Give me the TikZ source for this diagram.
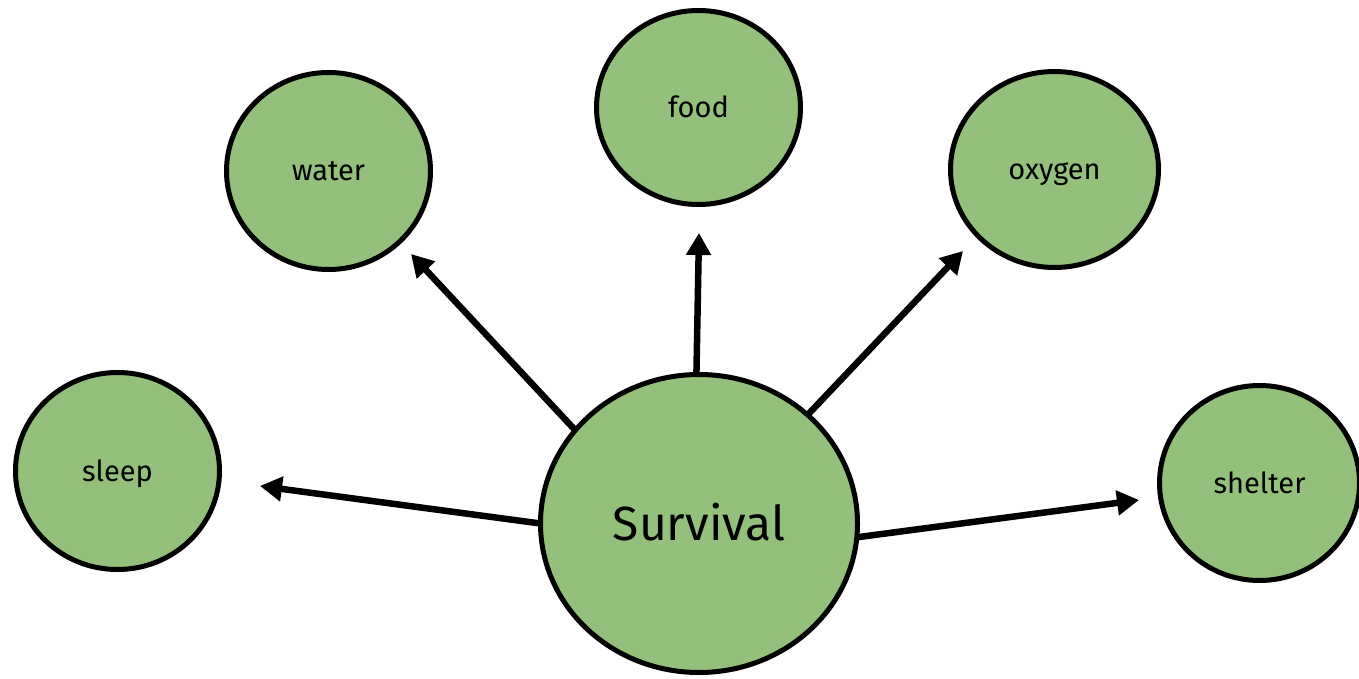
\documentclass[tikz,border=0pt]{standalone}
\usepackage{fontspec}
\setmainfont{Fira Sans}
\usetikzlibrary{shapes.geometric,arrows.meta}
\definecolor{leaf}{RGB}{147,192,123}
\begin{document}
\begin{tikzpicture}[x=1pt,y=-1pt,
  bubble/.style={ellipse,draw=black,line width=5pt,fill=leaf,inner sep=0pt,outer sep=0pt,
    font=\fontsize{29}{34}\selectfont,text height=27pt,text depth=7pt},
  link/.style={line width=6.5pt,-{Triangle[width=24pt,length=22pt]}}]
\useasboundingbox (0,0) rectangle (1359,679);
\node[bubble,minimum width=317pt,minimum height=298pt,font=\fontsize{48}{56}\selectfont,text height=45pt,text depth=12pt] (surv) at (699,523.5) {Survival};
\node[bubble,minimum width=204pt,minimum height=197pt] (water) at (328.5,171) {water};
\node[bubble,minimum width=204pt,minimum height=194pt] (food) at (698.5,107.5) {food};
\node[bubble,minimum width=208pt,minimum height=196pt] (oxygen) at (1054.5,169.5) {oxygen};
\node[bubble,minimum width=204pt,minimum height=197pt] (sleep) at (117.5,471) {sleep};
\node[bubble,minimum width=200pt,minimum height=195pt] (shelter) at (1259.5,483) {shelter};
\coordinate (tSleep) at (260,486);
\coordinate (tWater) at (411,254);
\coordinate (tFood) at (699,233);
\coordinate (tOxygen) at (963,251);
\coordinate (tShelter) at (1139,500);
\draw[link] (surv.180) -- (tSleep);
\draw[link] (surv.143) -- (tWater);
\draw[link] (surv.91) -- (tFood);
\draw[link] (surv.45) -- (tOxygen);
\draw[link] (surv.-5) -- (tShelter);
\end{tikzpicture}
\end{document}
